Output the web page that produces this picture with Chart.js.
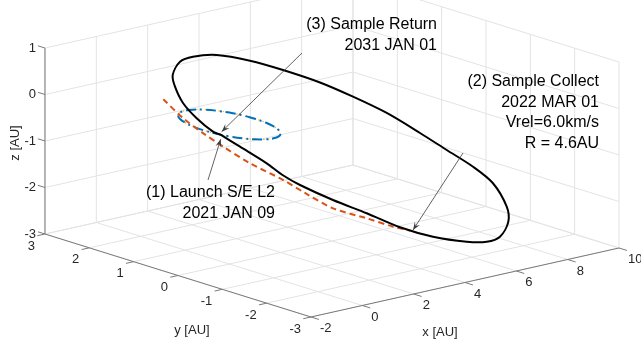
<!DOCTYPE html>
<html>
<head>
<meta charset="utf-8">
<script src="https://cdn.jsdelivr.net/npm/chart.js@4.4.1/dist/chart.umd.min.js"></script>
<style>
  html, body { margin: 0; padding: 0; background: #fff; }
  #wrap { width: 641px; height: 342px; }
</style>
</head>
<body>
<div id="wrap"><canvas id="chart" width="641" height="342"></canvas></div>
<script>
// Axis limits / ticks (AU)
const xTicks = [-2, 0, 2, 4, 6, 8, 10];
const yTicks = [-3, -2, -1, 0, 1, 2, 3];
const zTicks = [-3, -2, -1, 0, 1];

// Transfer trajectory (black)
const transferX = [-0.947, -1.152, -1.217, -1.059, -0.578, -0.070, 0.978, 1.856, 3.069, 4.346, 5.419, 6.512, 7.326, 8.063, 8.585, 8.953, 9.318, 9.390, 8.804, 8.089, 6.904, 6.011, 5.064, 3.730, 2.663, 1.825, 0.929, 0.158, -0.132, -0.275, -0.664, -0.947];
const transferY = [-0.361, -0.299, 0.031, 0.431, 0.890, 1.236, 1.678, 1.894, 2.062, 2.050, 1.926, 1.725, 1.452, 1.118, 0.669, 0.280, -0.102, -0.511, -1.160, -1.610, -2.108, -2.326, -2.423, -2.435, -2.308, -2.043, -1.801, -1.504, -1.295, -1.003, -0.626, -0.361];
const transferZ = [0.000, 0.077, 0.275, 0.465, 0.620, 0.705, 0.730, 0.665, 0.502, 0.225, -0.071, -0.415, -0.740, -1.082, -1.443, -1.739, -2.030, -2.273, -2.512, -2.612, -2.640, -2.573, -2.426, -2.150, -1.853, -1.527, -1.203, -0.873, -0.696, -0.502, -0.209, 0.000];

// Target orbit arc (orange dashed)
const cometX = [-1.797, -1.852, -1.696, -1.455, -1.066, -0.370, -0.027, 0.492, 1.561, 2.378, 2.968];
const cometY = [0.448, -0.035, -0.396, -0.707, -1.084, -1.432, -1.723, -2.055, -2.196, -2.323, -2.358];
const cometZ = [0.631, 0.372, 0.138, -0.087, -0.380, -0.722, -0.957, -1.252, -1.557, -1.801, -1.945];

// Earth orbit (blue dash-dot), 1 AU
const earthX = [1, 0.966, 0.866, 0.707, 0.5, 0.259, 0, -0.259, -0.5, -0.707, -0.866, -0.966, -1, -0.966, -0.866, -0.707, -0.5, -0.259, 0, 0.259, 0.5, 0.707, 0.866, 0.966, 1];
const earthY = [0, 0.259, 0.5, 0.707, 0.866, 0.966, 1, 0.966, 0.866, 0.707, 0.5, 0.259, 0, -0.259, -0.5, -0.707, -0.866, -0.966, -1, -0.966, -0.866, -0.707, -0.5, -0.259, 0];
const earthZ = [0, 0, 0, 0, 0, 0, 0, 0, 0, 0, 0, 0, 0, 0, 0, 0, 0, 0, 0, 0, 0, 0, 0, 0, 0];

// Event points
const launchPt = [-0.947, -0.361, 0.0];
const collectPt = [2.968, -2.358, -1.945];

// 3D view (az/el baked into screen axis vectors)
const VIEW = { ox: 229.3, oy: 124.5, ex: [25.67, -5.75], ey: [-44.33, -13.83], ez: [0, -46.5] };
const W = 641, H = 342;
const FONT = '"Liberation Sans", Arial, Helvetica, sans-serif';

function project(x, y, z) {
    return {
        x: VIEW.ox + VIEW.ex[0] * x + VIEW.ey[0] * y + VIEW.ez[0] * z,
        y: VIEW.oy + VIEW.ex[1] * x + VIEW.ey[1] * y + VIEW.ez[1] * z
    };
}
const projectAll = (xs, ys, zs) => xs.map((v, i) => project(v, ys[i], zs[i]));

const xMin = xTicks[0], xMax = xTicks[xTicks.length - 1];
const yMin = yTicks[0], yMax = yTicks[yTicks.length - 1];
const zMin = zTicks[0], zMax = zTicks[zTicks.length - 1];

const datasets = [];
function segment(a, b, color, width, order) {
    datasets.push({
        data: [project(...a), project(...b)],
        showLine: true, borderColor: color, borderWidth: width,
        pointRadius: 0, order: order
    });
}

// grid: back walls and floor
const gridColor = '#e3e3e3';
xTicks.forEach(x => {
    segment([x, yMax, zMin], [x, yMax, zMax], gridColor, 1, 20);
    segment([x, yMin, zMin], [x, yMax, zMin], gridColor, 1, 20);
});
yTicks.forEach(y => {
    segment([xMax, y, zMin], [xMax, y, zMax], gridColor, 1, 20);
    segment([xMin, y, zMin], [xMax, y, zMin], gridColor, 1, 20);
});
zTicks.forEach(z => {
    segment([xMin, yMax, z], [xMax, yMax, z], gridColor, 1, 20);
    segment([xMax, yMin, z], [xMax, yMax, z], gridColor, 1, 20);
});

// axis lines and ticks
const axisColor = '#7a7a7a';
segment([xMin, yMax, zMin], [xMin, yMax, zMax], axisColor, 1, 10);
segment([xMin, yMin, zMin], [xMax, yMin, zMin], axisColor, 1, 10);
segment([xMin, yMax, zMin], [xMin, yMin, zMin], axisColor, 1, 10);
zTicks.forEach(z => segment([xMin, yMax, z], [xMin, yMax + 0.16, z], axisColor, 1, 10));
xTicks.forEach(x => segment([x, yMin, zMin], [x, yMin - 0.18, zMin], axisColor, 1, 10));
yTicks.forEach(y => segment([xMin, y, zMin], [xMin - 0.3, y, zMin], axisColor, 1, 10));

// orbits
datasets.push({
    data: projectAll(earthX, earthY, earthZ), showLine: true, tension: 0.4,
    borderColor: '#EDB120', borderWidth: 1.2, borderDash: [1.5, 3], pointRadius: 0, order: 4
});
datasets.push({
    data: projectAll(earthX, earthY, earthZ), showLine: true, tension: 0.4,
    borderColor: '#0072BD', borderWidth: 2, borderDash: [10, 4, 2, 4], pointRadius: 0, order: 3
});
datasets.push({
    data: projectAll(cometX, cometY, cometZ), showLine: true, tension: 0.3,
    borderColor: '#D95319', borderWidth: 2, borderDash: [6, 4], pointRadius: 0, order: 2
});
datasets.push({
    data: projectAll(transferX, transferY, transferZ), showLine: true, tension: 0.3,
    borderColor: '#000000', borderWidth: 2, pointRadius: 0, order: 1
});

// annotations (figure px for text/tail, data point for head)
const notes = [
    { lines: ['(3) Sample Return', '2031 JAN 01'], right: 437, top: 25, tail: [302, 53], target: launchPt, off: [0.7, -3.3] },
    { lines: ['(2) Sample Collect', '2022 MAR 01', 'Vrel=6.0km/s', 'R = 4.6AU'], right: 599, top: 82, tail: [463, 153], target: collectPt, off: [3, -0.5] },
    { lines: ['(1) Launch S/E L2', '2021 JAN 09'], right: 275, top: 193, tail: [208, 180], target: launchPt, off: [-0.3, 4.3] }
];

const textPlugin = {
    id: 'axisText',
    afterDraw(chart) {
        const ctx = chart.ctx;
        const sx = chart.scales.x, sy = chart.scales.y;
        const px = p => [sx.getPixelForValue(p.x), sy.getPixelForValue(p.y)];
        ctx.save();
        ctx.fillStyle = '#262626';
        ctx.font = '13px ' + FONT;
        ctx.textBaseline = 'middle';

        // z tick labels
        ctx.textAlign = 'right';
        zTicks.forEach(z => {
            const [x, y] = px(project(xMin, yMax, z));
            ctx.fillText(String(z), x - 9, y);
        });
        // y tick labels
        yTicks.forEach(v => {
            const [x, y] = px(project(xMin, v, zMin));
            ctx.fillText(String(v), x - 10, y + 12);
        });
        // x tick labels
        ctx.textAlign = 'left';
        xTicks.forEach(v => {
            const [x, y] = px(project(v, yMin, zMin));
            ctx.fillText(String(v), x + 9, y + 11.5);
        });

        // axis titles
        ctx.textAlign = 'center';
        let [ax, ay] = px(project((xMin + xMax) / 2, yMin, zMin));
        ctx.fillText('x [AU]', ax - 25, ay + 50);
        [ax, ay] = px(project(xMin, 0, zMin));
        ctx.fillText('y [AU]', ax + 14, ay + 55);
        [ax, ay] = px(project(xMin, yMax, -1));
        ctx.save();
        ctx.translate(ax - 30, ay + 2);
        ctx.rotate(-Math.PI / 2);
        ctx.fillText('z [AU]', 0, 0);
        ctx.restore();

        // annotations
        notes.forEach(n => {
            const t = project(...n.target);
            const [hx0, hy0] = px(t);
            const hx = hx0 + n.off[0], hy = hy0 + n.off[1];
            const [tx, ty] = n.tail;
            ctx.strokeStyle = '#3c3c3c';
            ctx.fillStyle = '#3c3c3c';
            ctx.lineWidth = 0.8;
            ctx.beginPath();
            ctx.moveTo(tx, ty);
            ctx.lineTo(hx, hy);
            ctx.stroke();
            const ang = Math.atan2(hy - ty, hx - tx);
            const L = 8, Wd = 3;
            ctx.beginPath();
            ctx.moveTo(hx, hy);
            ctx.lineTo(hx - L * Math.cos(ang) + Wd * Math.sin(ang), hy - L * Math.sin(ang) - Wd * Math.cos(ang));
            ctx.lineTo(hx - 0.6 * L * Math.cos(ang), hy - 0.6 * L * Math.sin(ang));
            ctx.lineTo(hx - L * Math.cos(ang) - Wd * Math.sin(ang), hy - L * Math.sin(ang) + Wd * Math.cos(ang));
            ctx.closePath();
            ctx.fill();

            ctx.fillStyle = '#000';
            ctx.font = '16px ' + FONT;
            ctx.textAlign = 'right';
            ctx.textBaseline = 'middle';
            n.lines.forEach((line, i) => ctx.fillText(line, n.right, n.top + i * 20.5));
        });
        ctx.restore();
    }
};

new Chart(document.getElementById('chart'), {
    type: 'scatter',
    data: { datasets },
    options: {
        responsive: false,
        animation: false,
        devicePixelRatio: 1,
        events: [],
        layout: { padding: 0 },
        plugins: { legend: { display: false }, tooltip: { enabled: false } },
        scales: {
            x: { type: 'linear', display: false, min: 0, max: W },
            y: { type: 'linear', display: false, min: 0, max: H, reverse: true }
        }
    },
    plugins: [textPlugin]
});
</script>
</body>
</html>
